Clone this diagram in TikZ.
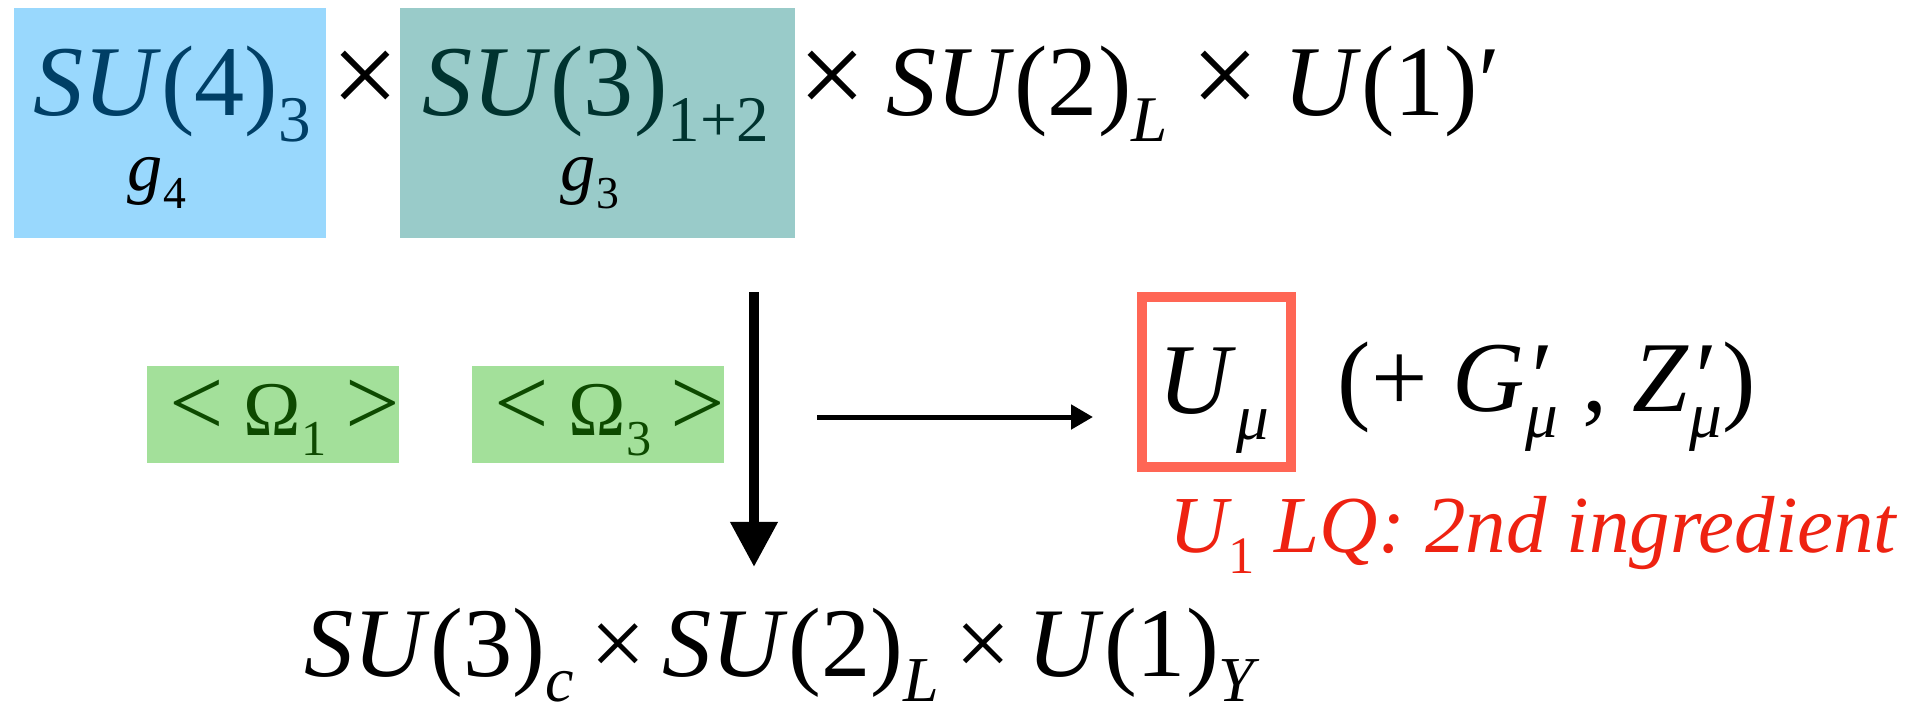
\documentclass[tikz,border=0pt]{standalone}
\usepackage{fontspec}
\setmainfont{Liberation Serif}
\usepackage{graphicx}
\usepackage{xcolor}
\usepackage{tikz}
\usetikzlibrary{arrows.meta, positioning}

\definecolor{celeste}{HTML}{99D8FD}
\definecolor{bluscuro}{HTML}{003F66}
\definecolor{acqua}{HTML}{99CBC9}
\definecolor{acquascuro}{HTML}{00332F}
\definecolor{verdino}{HTML}{A3E09A}
\definecolor{verdescuro}{HTML}{0D4A00}
\definecolor{salmone}{HTML}{FF6655}
\definecolor{rosso}{HTML}{EE2211}

% pedice, apice e simboli
\newcommand{\pd}[1]{\raisebox{-0.26em}{\scalebox{0.65}{#1}}}
\newcommand{\stk}{\rlap{\textit{′}}\pd{\textit{μ}}}
\newcommand{\croce}{\scalebox{1.2}{×}}
\newcommand{\per}[1]{\hspace{#1}\croce\hspace{#1}}
\newcommand{\mn}{\scalebox{1.25}{<}}
\newcommand{\mg}{\scalebox{1.25}{>}}

\begin{document}
\begin{tikzpicture}[x=0.01cm, y=-0.01cm,
    every node/.style={inner sep=0pt},
    testo/.style={anchor=base, font=\fontsize{28.5}{30}\selectfont},
    accoppia/.style={anchor=base, font=\fontsize{20}{22}\selectfont},
    fondo/.style={minimum height=2.3cm},
    vev/.style={fill=verdino, minimum width=2.52cm, minimum height=0.97cm},
    vevtesto/.style={anchor=base, text=verdescuro, font=\fontsize{22}{24}\selectfont},
    freccia/.style={line width=0.1cm, -{Triangle[length=0.45cm, width=0.45cm]}},
    freccina/.style={line width=0.05cm, -{Triangle[length=0.22cm, width=0.24cm]}}]

    \useasboundingbox (0,0) rectangle (1907,712);

    % Gruppo iniziale
    \node[fondo, fill=celeste, minimum width=3.12cm] (box4) at (170,123) {};
    \node[fondo, fill=acqua, minimum width=3.95cm] (box3) at (597.5,123) {};
    \node[testo, text=bluscuro] (su4) at (172,115) {\textit{SU}(4)\pd{3}};
    \node[accoppia] (g4) at (157,190) {\textit{g}\pd{4}};
    \node[testo] (x1) at (365,115) {\croce};
    \node[testo, text=acquascuro] (su3) at (596,115) {\textit{SU}(3)\pd{1+2}};
    \node[accoppia] (g3) at (590,190) {\textit{g}\pd{3}};
    \node[testo, anchor=base west] (resto) at (798,115) {\croce\hspace{0.2em}\textit{SU}(2)\pd{\textit{L}}\per{0.24em}\textit{U}(1)′};

    % Rottura
    \node[vev] (om1) at (273,414.5) {};
    \node[vev] (om3) at (598,414.5) {};
    \node[vevtesto] (om1t) at (285,435) {\mn{} Ω\pd{1} \mg};
    \node[vevtesto] (om3t) at (610,435) {\mn{} Ω\pd{3} \mg};
    \coordinate (vtop) at (754,292);
    \coordinate (vbot) at (754,567);
    \draw[freccia] (vtop) -- (vbot);

    % Bosoni
    \node[draw=salmone, line width=0.1cm, minimum width=1.49cm, minimum height=1.69cm] (ubox) at (1216.5,382) {};
    \coordinate (hstart) at (817,417);
    \coordinate (hend) at (1093,417);
    \draw[freccina] (hstart) -- (hend);
    \node[testo] (umu) at (1214,413) {\textit{U}\pd{\textit{μ}}};
    \node[testo, anchor=base west] (extra) at (1337,411) {(+ \textit{G}\stk{} , \textit{Z}\stk)};
    \node[anchor=base east, text=rosso, font=\fontsize{23}{25}\selectfont\itshape] (lq) at (1897,552) {U\pd{\upshape 1} LQ: 2nd ingredient};

    % Modello standard
    \node[anchor=base west, font=\fontsize{28}{30}\selectfont] (sm) at (304,676) {\textit{SU}(3)\pd{\textit{c}}\hspace{0.17em}×\hspace{0.17em}\textit{SU}(2)\pd{\textit{L}}\hspace{0.17em}×\hspace{0.17em}\textit{U}(1)\pd{\textit{Y}}};
\end{tikzpicture}
\end{document}
